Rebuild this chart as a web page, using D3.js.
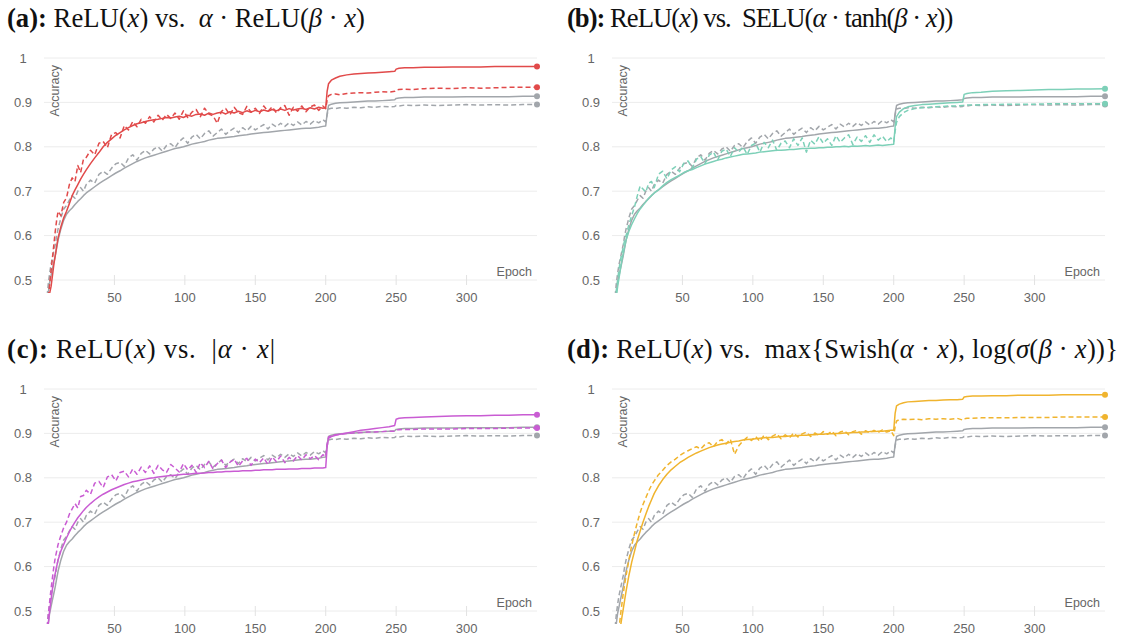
<!DOCTYPE html>
<html><head><meta charset="utf-8">
<script src="https://cdn.jsdelivr.net/npm/d3@7"></script>
<style>
body{margin:0;background:#fff;}
svg text{white-space:pre;}
</style></head>
<body>
<svg id="chart" width="1124" height="635"></svg>
<script>
// ---- data ----
const epochs = [1,2,3,4,5,6,7,8,9,10,
 12,14,16,18,20,22,24,26,28,30,
 33,36,39,42,45,48,51,54,57,60,
 63,66,69,72,75,78,81,84,87,90,
 93,96,99,102,105,108,111,114,117,120,
 123,126,129,132,135,138,141,144,147,150,
 153,156,159,162,165,168,171,174,177,180,
 183,186,189,192,195,198,
 200,201,202,204,207,210,
 215,220,225,230,235,240,245,249,
 250,252,256,262,270,280,290,300,310,320,330,340,350];

const xTicks = [50,100,150,200,250,300];
const yTicks = [0.5,0.6,0.7,0.8,0.9,1];
const yTickLabels = ["0.5","0.6","0.7","0.8","0.9","1"];

const reluSolid = [0.40,0.44,0.47,0.495,0.51,0.525,0.54,0.555,0.573,0.59,
 0.615,0.635,0.648,0.656,0.662,0.670,0.677,0.683,0.690,0.696,
 0.703,0.710,0.717,0.723,0.729,0.735,0.741,0.746,0.752,0.757,
 0.762,0.767,0.771,0.775,0.778,0.781,0.784,0.787,0.790,0.793,
 0.796,0.798,0.800,0.803,0.806,0.808,0.810,0.812,0.815,0.817,
 0.819,0.820,0.821,0.822,0.823,0.825,0.826,0.827,0.829,0.830,
 0.831,0.832,0.833,0.834,0.835,0.836,0.837,0.838,0.839,0.840,
 0.841,0.842,0.842,0.843,0.844,0.846,
 0.847,0.875,0.893,0.896,0.898,0.899,
 0.900,0.901,0.902,0.903,0.903,0.904,0.905,0.906,
 0.909,0.910,0.911,0.911,0.912,0.912,0.912,0.913,0.913,0.913,0.913,0.914,0.914];

const reluDashed = [0.41,0.455,0.49,0.515,0.535,0.55,0.565,0.58,0.60,0.615,
 0.64,0.66,0.668,0.68,0.69,0.684,0.70,0.708,0.70,0.715,
 0.725,0.718,0.738,0.745,0.738,0.752,0.762,0.765,0.756,0.775,
 0.782,0.77,0.785,0.792,0.784,0.795,0.80,0.79,0.803,0.807,
 0.798,0.812,0.82,0.808,0.822,0.828,0.818,0.83,0.836,0.824,
 0.832,0.84,0.828,0.836,0.842,0.832,0.843,0.836,0.846,0.838,
 0.844,0.85,0.84,0.851,0.845,0.853,0.846,0.854,0.848,0.856,
 0.849,0.857,0.851,0.859,0.854,0.861,
 0.856,0.872,0.885,0.887,0.886,0.888,
 0.887,0.889,0.888,0.890,0.889,0.891,0.890,0.891,
 0.893,0.892,0.894,0.893,0.894,0.893,0.894,0.895,0.894,0.895,0.894,0.895,0.895];

const aSolid = [0.38,0.42,0.45,0.47,0.485,0.51,0.535,0.555,0.575,0.595,
 0.62,0.64,0.655,0.672,0.69,0.703,0.715,0.727,0.738,0.748,
 0.762,0.775,0.787,0.80,0.81,0.818,0.826,0.832,0.838,0.843,
 0.848,0.852,0.854,0.857,0.859,0.861,0.862,0.864,0.866,0.865,
 0.867,0.869,0.866,0.871,0.869,0.873,0.874,0.871,0.876,0.873,
 0.876,0.878,0.874,0.879,0.876,0.88,0.877,0.881,0.878,0.882,
 0.879,0.883,0.88,0.884,0.881,0.885,0.882,0.886,0.883,0.885,
 0.887,0.884,0.888,0.885,0.889,0.887,
 0.888,0.925,0.942,0.950,0.955,0.959,
 0.962,0.964,0.965,0.966,0.967,0.968,0.969,0.970,
 0.975,0.977,0.978,0.978,0.979,0.979,0.980,0.980,0.980,0.981,0.981,0.981,0.981];

const aDashed = [0.39,0.43,0.46,0.49,0.52,0.55,0.58,0.61,0.635,0.655,
 0.645,0.675,0.685,0.715,0.73,0.722,0.758,0.742,0.772,0.776,
 0.792,0.782,0.808,0.812,0.798,0.828,0.832,0.82,0.848,0.838,
 0.857,0.845,0.862,0.853,0.868,0.856,0.871,0.86,0.873,0.864,
 0.876,0.862,0.881,0.866,0.878,0.884,0.868,0.887,0.874,0.87,
 0.853,0.88,0.886,0.872,0.889,0.877,0.873,0.891,0.878,0.887,
 0.875,0.892,0.88,0.89,0.876,0.888,0.893,0.871,0.889,0.88,
 0.892,0.879,0.89,0.894,0.882,0.892,
 0.886,0.905,0.915,0.918,0.919,0.917,
 0.920,0.921,0.922,0.921,0.923,0.924,0.923,0.925,
 0.928,0.929,0.93,0.929,0.931,0.932,0.931,0.933,0.932,0.933,0.934,0.934,0.934];

const bSolid = [0.39,0.43,0.46,0.485,0.505,0.525,0.545,0.56,0.575,0.59,
 0.61,0.625,0.638,0.65,0.66,0.668,0.676,0.684,0.69,0.696,
 0.703,0.712,0.72,0.726,0.731,0.736,0.742,0.746,0.749,0.753,
 0.757,0.761,0.764,0.767,0.77,0.772,0.775,0.777,0.779,0.781,
 0.783,0.784,0.785,0.786,0.788,0.789,0.79,0.791,0.792,0.792,
 0.793,0.794,0.794,0.795,0.796,0.796,0.797,0.797,0.798,0.798,
 0.799,0.799,0.8,0.8,0.801,0.8,0.802,0.801,0.802,0.803,
 0.802,0.803,0.804,0.803,0.804,0.805,
 0.806,0.845,0.868,0.878,0.886,0.89,
 0.893,0.895,0.896,0.897,0.898,0.899,0.9,0.901,
 0.918,0.92,0.922,0.923,0.925,0.926,0.927,0.928,0.929,0.929,0.93,0.93,0.931];

const bDashed = [0.40,0.44,0.475,0.50,0.525,0.545,0.56,0.575,0.59,0.60,
 0.625,0.645,0.665,0.69,0.712,0.705,0.698,0.718,0.722,0.708,
 0.738,0.745,0.728,0.748,0.755,0.744,0.763,0.768,0.752,0.772,
 0.778,0.762,0.781,0.788,0.77,0.79,0.795,0.778,0.798,0.788,
 0.8,0.783,0.803,0.808,0.788,0.81,0.798,0.815,0.792,0.808,
 0.813,0.798,0.818,0.803,0.82,0.788,0.815,0.806,0.823,0.808,
 0.818,0.803,0.825,0.81,0.82,0.827,0.805,0.822,0.812,0.825,
 0.81,0.827,0.815,0.824,0.812,0.82,
 0.812,0.835,0.855,0.868,0.877,0.882,
 0.886,0.888,0.889,0.89,0.891,0.892,0.892,0.893,
 0.893,0.894,0.894,0.895,0.895,0.896,0.896,0.896,0.897,0.897,0.897,0.897,0.897];

const cSolid = [0.40,0.44,0.47,0.50,0.525,0.55,0.57,0.585,0.60,0.615,
 0.635,0.65,0.665,0.678,0.69,0.70,0.71,0.718,0.726,0.733,
 0.742,0.75,0.757,0.763,0.768,0.773,0.777,0.781,0.785,0.788,
 0.791,0.793,0.795,0.797,0.799,0.80,0.802,0.803,0.804,0.805,
 0.806,0.807,0.808,0.808,0.809,0.81,0.81,0.811,0.812,0.812,
 0.813,0.813,0.814,0.814,0.815,0.815,0.816,0.816,0.816,0.817,
 0.817,0.818,0.818,0.818,0.819,0.819,0.819,0.82,0.82,0.82,
 0.821,0.821,0.821,0.822,0.822,0.822,
 0.823,0.87,0.889,0.893,0.896,0.898,
 0.901,0.904,0.907,0.909,0.911,0.913,0.915,0.918,
 0.932,0.934,0.935,0.936,0.937,0.938,0.939,0.94,0.94,0.941,0.941,0.942,0.942];

const cDashed = [0.41,0.45,0.49,0.52,0.55,0.575,0.60,0.62,0.635,0.65,
 0.67,0.688,0.70,0.718,0.73,0.742,0.732,0.758,0.76,0.772,
 0.763,0.788,0.792,0.778,0.802,0.807,0.793,0.812,0.815,0.802,
 0.82,0.808,0.824,0.812,0.827,0.81,0.828,0.818,0.812,0.83,
 0.822,0.813,0.832,0.818,0.828,0.812,0.834,0.823,0.837,0.82,
 0.832,0.84,0.823,0.835,0.842,0.826,0.838,0.844,0.828,0.842,
 0.834,0.845,0.83,0.847,0.836,0.849,0.834,0.846,0.838,0.85,
 0.84,0.852,0.843,0.85,0.841,0.852,
 0.848,0.875,0.892,0.895,0.897,0.898,
 0.9,0.901,0.902,0.903,0.903,0.904,0.905,0.905,
 0.908,0.908,0.909,0.909,0.91,0.91,0.91,0.911,0.911,0.911,0.912,0.912,0.912];

const dSolid = [0.31,0.35,0.38,0.41,0.44,0.465,0.485,0.505,0.525,0.545,
 0.58,0.61,0.635,0.66,0.68,0.70,0.718,0.735,0.75,0.765,
 0.782,0.796,0.808,0.818,0.826,0.834,0.84,0.846,0.851,0.856,
 0.86,0.864,0.868,0.871,0.874,0.876,0.878,0.88,0.882,0.883,
 0.885,0.886,0.887,0.888,0.889,0.89,0.891,0.891,0.892,0.893,
 0.893,0.894,0.894,0.895,0.896,0.896,0.897,0.897,0.898,0.898,
 0.899,0.899,0.9,0.9,0.901,0.901,0.902,0.902,0.903,0.903,
 0.904,0.904,0.905,0.905,0.906,0.907,
 0.907,0.945,0.962,0.966,0.969,0.971,
 0.972,0.973,0.974,0.974,0.975,0.976,0.976,0.977,
 0.982,0.983,0.984,0.984,0.985,0.985,0.986,0.986,0.986,0.987,0.987,0.987,0.987];

const dDashed = [0.33,0.37,0.40,0.43,0.46,0.49,0.515,0.54,0.56,0.58,
 0.615,0.648,0.675,0.70,0.722,0.74,0.755,0.77,0.783,0.793,
 0.807,0.817,0.828,0.836,0.842,0.85,0.856,0.861,0.866,0.87,
 0.865,0.875,0.879,0.87,0.882,0.886,0.876,0.887,0.853,0.872,
 0.883,0.891,0.884,0.893,0.882,0.896,0.886,0.894,0.899,0.888,
 0.897,0.89,0.901,0.892,0.899,0.903,0.893,0.901,0.895,0.904,
 0.898,0.905,0.895,0.903,0.906,0.897,0.904,0.907,0.898,0.906,
 0.901,0.907,0.902,0.908,0.903,0.906,
 0.895,0.915,0.928,0.931,0.932,0.931,
 0.932,0.931,0.933,0.932,0.933,0.932,0.934,0.93,
 0.933,0.934,0.934,0.935,0.935,0.935,0.936,0.936,0.936,0.937,0.937,0.937,0.937];

// ---- layout ----
const GRAY = "#a2a6ab";
const panels = [
 {id:"a", color:"#e14a4a", solid:aSolid, dashed:aDashed, dx:0, dy:0, tdx:0, tw:358,
  title:[["(a):","b"],[" ReLU(",""],["x","i"],[") vs.  ",""],["α","i"],[" · ReLU(",""],["β","i"],[" · ",""],["x","i"],[")",""]]},
 {id:"b", color:"#7dd0b8", solid:bSolid, dashed:bDashed, dx:568, dy:0, tdx:560, tw:338,
  title:[["(b):","b"],[" ReLU(",""],["x","i"],[") vs.  SELU(",""],["α","i"],[" · tanh(",""],["β","i"],[" · ",""],["x","i"],["))",""]]},
 {id:"c", color:"#c95cd3", solid:cSolid, dashed:cDashed, dx:0, dy:331, tdx:0, tw:268,
  title:[["(c):","b"],[" ReLU(",""],["x","i"],[") vs.  |",""],["α","i"],[" · ",""],["x","i"],["|",""]]},
 {id:"d", color:"#f0b42e", solid:dSolid, dashed:dDashed, dx:568, dy:331, tdx:560, tw:551,
  title:[["(d):","b"],[" ReLU(",""],["x","i"],[") vs.  max{Swish(",""],["α","i"],[" · ",""],["x","i"],["), log(",""],["σ","i"],["(",""],["β","i"],[" · ",""],["x","i"],["))}",""]]}
];

const svg = d3.select("#chart");
const x = d3.scaleLinear().domain([0,350]).range([44,537]);
const y = d3.scaleLinear().domain([0.5,1]).range([280,58]);
const sans = "'Liberation Sans', Arial, sans-serif";

// titles: common font size, spacing adjusted to reach each title's width
const titleEls = panels.map(p => {
  const t = svg.append("text")
    .attr("x", 7 + p.tdx).attr("y", 27 + p.dy)
    .attr("font-family", "'Liberation Serif','DejaVu Serif',serif")
    .attr("font-size", 24).attr("fill", "#111");
  p.title.forEach(([s, st]) => {
    t.append("tspan").text(s)
      .attr("font-weight", st === "b" ? "bold" : null)
      .attr("font-style", st === "i" ? "italic" : null);
  });
  return t;
});
const wa = titleEls[0].node().getComputedTextLength();
const fs = 24 * 358 / wa;
titleEls.forEach((t, i) => {
  t.attr("font-size", fs);
  const w = t.node().getComputedTextLength();
  const n = panels[i].title.map(d => d[0]).join("").length;
  const ls = Math.max(-1, Math.min(2, (panels[i].tw - w) / (n - 1)));
  t.attr("letter-spacing", ls);
});

panels.forEach(p => {
  const g = svg.append("g").attr("transform", `translate(${p.dx},${p.dy})`);
  // grid
  g.selectAll("line.grid").data(yTicks).join("line")
    .attr("x1", x(0)).attr("x2", x(350))
    .attr("y1", d => y(d)).attr("y2", d => y(d))
    .attr("stroke", "#ececec").attr("stroke-width", 1);
  // y tick labels
  g.selectAll("text.yt").data(yTicks).join("text")
    .attr("x", 23).attr("y", d => y(d) + 4.5)
    .attr("text-anchor", "middle")
    .attr("font-family", sans).attr("font-size", 13).attr("fill", "#666")
    .text((d, i) => yTickLabels[i]);
  // x ticks
  g.selectAll("line.xt").data(xTicks).join("line")
    .attr("x1", d => x(d)).attr("x2", d => x(d))
    .attr("y1", y(0.5) - 5).attr("y2", y(0.5) + 5)
    .attr("stroke", "#e2e2e2");
  g.selectAll("text.xt").data(xTicks).join("text")
    .attr("x", d => x(d)).attr("y", y(0.5) + 21.5)
    .attr("text-anchor", "middle")
    .attr("font-family", sans).attr("font-size", 13).attr("fill", "#666")
    .text(d => d);
  // axis titles
  g.append("text").attr("x", 532).attr("y", 276).attr("text-anchor", "end")
    .attr("font-family", sans).attr("font-size", 12.5).attr("fill", "#666").text("Epoch");
  g.append("text").attr("transform", "translate(59,65) rotate(-90)").attr("text-anchor", "end")
    .attr("font-family", sans).attr("font-size", 12.5).attr("fill", "#666").text("Accuracy");

  // clip
  const cid = "clip-" + p.id;
  g.append("clipPath").attr("id", cid).append("rect")
    .attr("x", x(0)).attr("y", 40).attr("width", x(350) - x(0) + 10).attr("height", 293 - 40);

  const line = d3.line().x(d => x(d[0])).y(d => y(d[1]));
  const series = [
    {vals: reluDashed, color: GRAY, dash: "5,3"},
    {vals: reluSolid, color: GRAY, dash: null},
    {vals: p.dashed, color: p.color, dash: "5,3"},
    {vals: p.solid, color: p.color, dash: null}
  ];
  const lg = g.append("g").attr("clip-path", `url(#${cid})`);
  series.forEach(s => {
    const pts = epochs.map((e, i) => [e, s.vals[i]]).filter(d => d[1] != null);
    lg.append("path").datum(pts).attr("d", line)
      .attr("fill", "none").attr("stroke", s.color).attr("stroke-width", 1.5)
      .attr("stroke-dasharray", s.dash).attr("stroke-linejoin", "round");
    const last = pts[pts.length - 1];
    g.append("circle").attr("cx", x(last[0])).attr("cy", y(last[1])).attr("r", 3)
      .attr("fill", s.color);
  });
});
</script>
</body></html>
